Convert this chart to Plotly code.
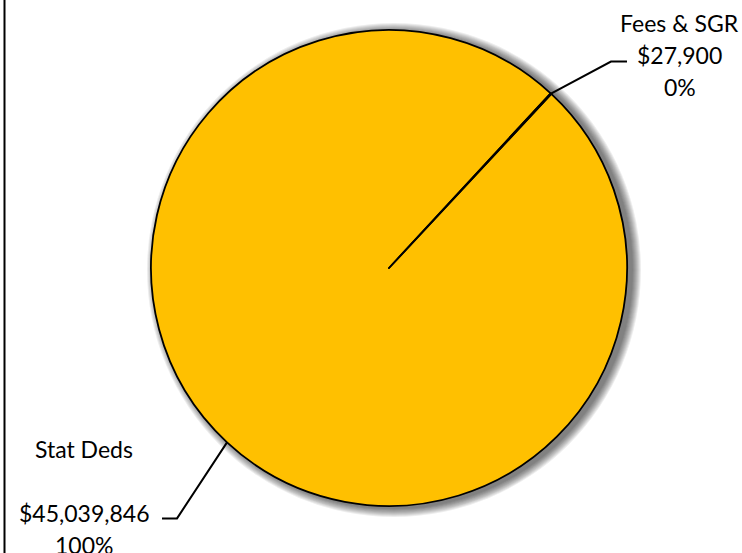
import math
import plotly.graph_objects as go

# ---- data ----
labels = ["Stat Deds", "Fees & SGR"]
values = [45039846, 27900]

# ---- geometry / style ----
W, H = 742, 553
CX, CY, R = 389, 268, 238          # pie centre and radius (px)
ROTATION = 43                      # start angle of first slice, clockwise from 12 o'clock
FILL = "#FFC000"
FONT = dict(family="Lato", size=23, color="#000000")
LINE_H = 32

# label placement per slice (px)
elbow = [(-50, 76), (60, -32)]
tail = [-15, 16]
text_off = [(-78, -69), (53, -39)]
blank_lines = [1, 0]


def px(x):
    return x / W


def py(y):
    return 1 - y / H


total = sum(values)
fig = go.Figure()
fig.add_trace(go.Pie(
    labels=labels, values=values, sort=False, direction="clockwise",
    rotation=ROTATION, textinfo="none", textposition="none", hoverinfo="skip",
    marker=dict(colors=[FILL] * len(values), line=dict(color="#000000", width=1.8)),
    domain=dict(x=[px(CX - R), px(CX + R)], y=[py(CY + R), py(CY - R)]),
    showlegend=False,
))

shapes = []
# soft drop shadow behind the pie
for k in range(1, 10):
    shapes.append(dict(
        type="circle", xref="paper", yref="paper", layer="below",
        x0=px(CX + 5 - R - k), x1=px(CX + 5 + R + k),
        y0=py(CY + 2 + R + k), y1=py(CY + 2 - R - k),
        fillcolor="rgba(0,0,0,0.07)", line=dict(width=0),
    ))
# left chart border
shapes.append(dict(type="line", xref="paper", yref="paper",
                   x0=px(4.5), x1=px(4.5), y0=0, y1=1,
                   line=dict(color="#000000", width=2)))

annotations = []
cum = 0
for i, (lab, v) in enumerate(zip(labels, values)):
    mid = ROTATION + 360 * (cum + v / 2) / total
    cum += v
    a = math.radians(mid)
    ex, ey = CX + R * math.sin(a), CY - R * math.cos(a)
    bx, by = ex + elbow[i][0], ey + elbow[i][1]
    tx, ty = bx + tail[i], by
    shapes.append(dict(type="path", xref="paper", yref="paper",
                       path=f"M {px(ex)} {py(ey)} L {px(bx)} {py(by)} L {px(tx)} {py(ty)}",
                       line=dict(color="#000000", width=2)))
    pct = round(100 * v / total)
    lines = [lab] + [""] * blank_lines[i] + [f"${v:,}", f"{pct}%"]
    lx = tx + text_off[i][0]
    ly = ty + text_off[i][1]
    for j, t in enumerate(lines):
        if not t:
            continue
        annotations.append(dict(
            x=px(lx), y=py(ly + j * LINE_H), xref="paper", yref="paper",
            text=t, showarrow=False, xanchor="center", yanchor="middle",
            font=FONT,
        ))

fig.update_layout(
    width=W, height=H, margin=dict(l=0, r=0, t=0, b=0),
    paper_bgcolor="#FFFFFF", plot_bgcolor="#FFFFFF",
    shapes=shapes, annotations=annotations, showlegend=False,
)
fig.write_html("out.html", config={"displayModeBar": False},
               post_script="document.body.style.margin='0';")
